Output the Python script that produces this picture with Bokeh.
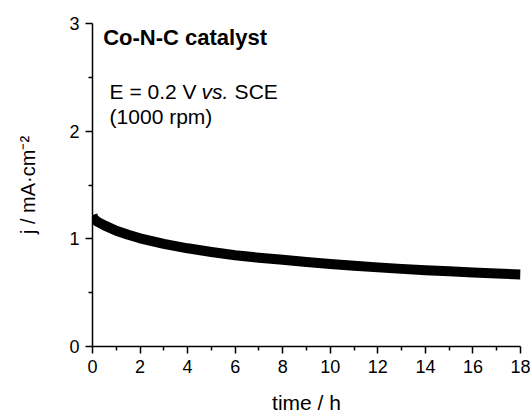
from bokeh.plotting import figure
from bokeh.models import Range1d, FixedTicker, Label
from bokeh.embed import file_html
from bokeh.resources import INLINE

# data
time_h = [0.0, 0.05, 0.2, 0.5, 1.0, 1.5, 2.0, 3.0, 4.0, 5.0, 6.0, 7.0, 8.0,
          9.0, 10.0, 11.0, 12.0, 13.0, 14.0, 15.0, 16.0, 17.0, 18.0]
current_j = [1.22, 1.19, 1.16, 1.125, 1.075, 1.038, 1.005, 0.953, 0.912, 0.878, 0.848,
             0.825, 0.805, 0.785, 0.766, 0.75, 0.735, 0.721, 0.709, 0.698, 0.688, 0.678, 0.668]
x_major = [0, 2, 4, 6, 8, 10, 12, 14, 16, 18]
x_minor = [1, 3, 5, 7, 9, 11, 13, 15, 17]
y_major = [0, 1, 2, 3]
y_minor = [0.5, 1.5, 2.5]

FONT = "Liberation Sans"

p = figure(width=531, height=416, output_backend="svg", toolbar_location=None,
           x_range=Range1d(0, 18), y_range=Range1d(0, 3),
           min_border_left=92, min_border_right=11, min_border_top=23, min_border_bottom=68)
p.outline_line_color = None
p.grid.visible = False
p.background_fill_color = "white"
p.border_fill_color = "white"

p.line(time_h, current_j, line_color="black", line_width=10, line_join="round", line_cap="butt")

for ax in (p.xaxis[0], p.yaxis[0]):
    ax.axis_line_width = 1.5
    ax.axis_line_color = "black"
    ax.major_tick_line_width = 1.5
    ax.minor_tick_line_width = 1.5
    ax.major_tick_line_color = "black"
    ax.minor_tick_line_color = "black"
    ax.major_tick_out = 7
    ax.major_tick_in = 0
    ax.minor_tick_out = 4
    ax.minor_tick_in = 0
    ax.major_label_text_font = FONT
    ax.major_label_text_font_size = "18px"
    ax.major_label_text_color = "black"
    ax.axis_label_text_font = FONT
    ax.axis_label_text_font_style = "normal"
    ax.axis_label_text_color = "black"

p.xaxis[0].ticker = FixedTicker(ticks=x_major, minor_ticks=x_minor)
p.yaxis[0].ticker = FixedTicker(ticks=y_major, minor_ticks=y_minor)
p.xaxis[0].axis_label = "time / h"
p.yaxis[0].axis_label = "j / mA·cm⁻²"
p.xaxis[0].axis_label_text_font_size = "21px"
p.yaxis[0].axis_label_text_font_size = "20px"
p.xaxis[0].major_label_standoff = 6
p.yaxis[0].major_label_standoff = 6
p.xaxis[0].axis_label_standoff = 15
p.yaxis[0].axis_label_standoff = 27

p.add_layout(Label(x=0.45, y=2.87, text="Co-N-C catalyst", text_font=FONT,
                   text_font_size="22px", text_font_style="bold", text_color="black",
                   text_baseline="middle", text_align="left"))
p.add_layout(Label(x=0.72, y=2.364, text="E = 0.2 V", text_font=FONT, text_color="black",
                   text_font_size="21px", text_baseline="middle"))
p.add_layout(Label(x=0.72, y=2.364, x_offset=92, text="vs.", text_font=FONT, text_color="black",
                   text_font_size="21px", text_font_style="italic", text_baseline="middle"))
p.add_layout(Label(x=0.72, y=2.364, x_offset=125, text="SCE", text_font=FONT, text_color="black",
                   text_font_size="21px", text_baseline="middle"))
p.add_layout(Label(x=0.72, y=2.14, text="(1000 rpm)", text_font=FONT, text_color="black",
                   text_font_size="21px", text_baseline="middle"))

open("out.html", "w").write(file_html(p, INLINE))
